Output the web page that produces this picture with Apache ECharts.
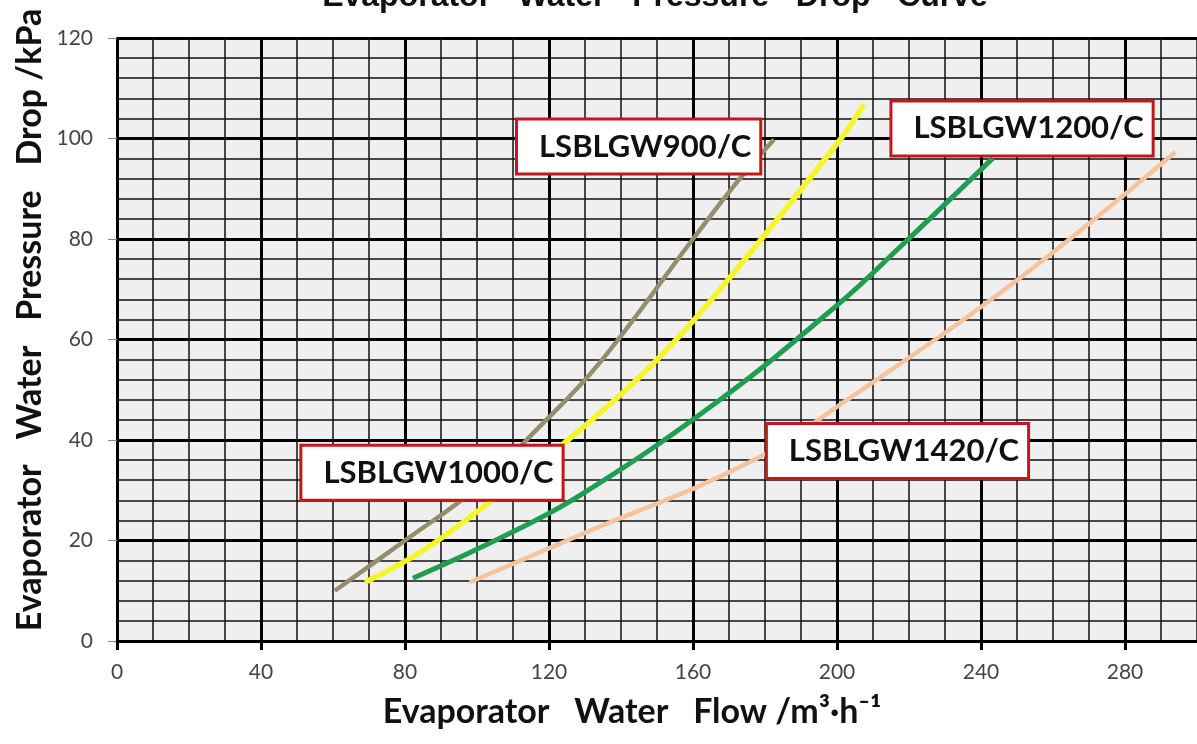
<!DOCTYPE html>
<html>
<head>
<meta charset="utf-8">
<script src="https://cdn.jsdelivr.net/npm/echarts@6/dist/echarts.min.js"></script>
<style>html,body{margin:0;padding:0;background:#fff}#c{width:1197px;height:744px}</style>
</head>
<body>
<div id="c"></div>
<script>
// ---- data (flow m3/h, pressure drop kPa) ----
const lsb900  = [[60.5,10],[80,20],[100,30.5],[116.5,42],[134,55.3],[160,80],[173,92],[182.5,99.8]];
const lsb1000 = [[68.9,11.7],[85,18],[103.6,27.7],[128.6,42],[150,56],[170.3,72.4],[200.8,99.7],[207.5,106.8]];
const lsb1200 = [[82.2,12.5],[105,20],[128.6,29],[167.5,48],[200.8,67.3],[217.5,78.4],[243.3,96.1]];
const lsb1420 = [[98,11.7],[128.6,21.1],[175.8,35.6],[202.8,48],[250,71.8],[294,97.3]];
const seriesNames = ['LSBLGW900/C','LSBLGW1000/C','LSBLGW1200/C','LSBLGW1420/C'];
const labelX = [144.9, 87.5, 251.4, 216.8];
const labelY = [98.4, 33.5, 102, 37.8];
const xTicks = [0,40,80,120,160,200,240,280];
const yTicks = [0,20,40,60,80,100,120];

const titleText = 'Evaporator   Water   Pressure   Drop   Curve';
const xTitle = 'Evaporator   Water   Flow /m\u00B3\u00B7h\u207B\u00B9';
const yTitle = 'Evaporator   Water   Pressure   Drop /kPa';

const colors = ['#958d6c', '#f6f52c', '#1f9e4f', '#f7c39a'];
const widths = [4.5, 5.5, 5, 4.5];

const chart = echarts.init(document.getElementById('c'), null, {renderer:'canvas'});
const lineData = [lsb900, lsb1000, lsb1200, lsb1420];
const series = lineData.map((d,i)=>({
  name: seriesNames[i], type:'line', data:d, smooth:0.4, showSymbol:false,
  lineStyle:{color:colors[i], width:widths[i]}, z:3
}));
series.push({
  type:'scatter', z:10,
  data: seriesNames.map((n,i)=>({name:n, value:[labelX[i], labelY[i]]})),
  symbol:'circle', symbolSize:1,
  itemStyle:{color:'#ffffff', opacity:1},
  label:{show:true, position:'inside', formatter:'{b}',
    fontFamily:'Lato', fontWeight:'bold', fontSize:31, lineHeight:36, color:'#111111',
    backgroundColor:'#ffffff', borderColor:'#c4161c', borderWidth:3,
    padding:[10, 8, 6, 21]},
  emphasis:{disabled:true}, silent:true
});

chart.setOption({
  backgroundColor:'#ffffff',
  animation:false,
  grid:{left:117, top:38, right:-72, bottom:103, show:true, backgroundColor:'#efefef', borderWidth:0,
    containLabel:false, outerBoundsMode:'none'},
  xAxis:{
    type:'value', min:0, max:320, interval:40,
    axisLine:{show:true, onZero:false, lineStyle:{color:'#000', width:3}},
    axisTick:{show:true, length:9, lineStyle:{color:'#000', width:3}},
    axisLabel:{margin:21, fontFamily:'Lato', fontSize:21, color:'#444', showMaxLabel:false,
      formatter:v=> xTicks.indexOf(v)>=0 ? String(v) : ''},
    splitLine:{show:true, lineStyle:{color:'#000', width:3}},
    minorTick:{show:false, splitNumber:4},
    minorSplitLine:{show:true, lineStyle:{color:'#111', width:1.5}}
  },
  yAxis:{
    type:'value', min:0, max:120, interval:20,
    axisLine:{show:true, onZero:false, lineStyle:{color:'#000', width:2}},
    axisTick:{show:true, length:9, lineStyle:{color:'#888', width:1}},
    axisLabel:{margin:24, fontFamily:'Lato', fontSize:21, color:'#444',
      formatter:v=> yTicks.indexOf(v)>=0 ? String(v) : ''},
    splitLine:{show:true, lineStyle:{color:'#000', width:3}},
    minorTick:{show:false, splitNumber:5},
    minorSplitLine:{show:true, lineStyle:{color:'#111', width:1.5}}
  },
  graphic:[
    {type:'text', x:655, y:-3, style:{text:titleText, textAlign:'center', textVerticalAlign:'middle',
      font:'bold 32px "Liberation Sans"', fill:'#111'}, silent:true},
    {type:'text', x:632, y:712, style:{text:xTitle, textAlign:'center', textVerticalAlign:'middle',
      font:'bold 34px Lato', fill:'#111'}, silent:true},
    {type:'text', x:30, y:320, rotation:Math.PI/2, style:{text:yTitle, textAlign:'center', textVerticalAlign:'middle',
      font:'bold 34px Lato', fill:'#111'}, silent:true}
  ],
  series: series
});
</script>
</body>
</html>
